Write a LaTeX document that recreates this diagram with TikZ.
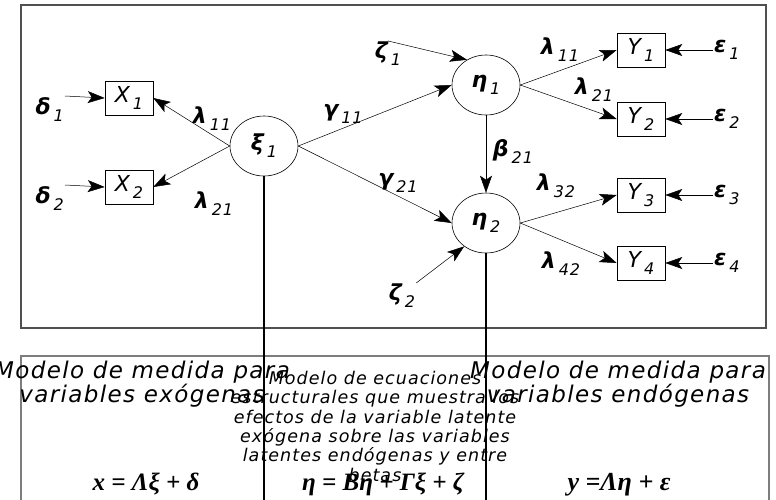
\documentclass[tikz,border=0pt]{standalone}
\usepackage{fontspec}
\usetikzlibrary{arrows.meta,shapes.geometric}
\newfontfamily\labfont{DejaVu Sans}[LetterSpace=6]
\newfontfamily\notefont{DejaVu Sans}[LetterSpace=6]
\newfontfamily\eqfont{Liberation Serif}
\definecolor{framegray}{RGB}{80,80,80}
\definecolor{lowgray}{RGB}{125,125,125}
% greek letter with lowered index
\newcommand{\gk}[2]{{\bfseries #1}\hspace{3pt}\raisebox{-7pt}{\fontsize{16}{16}\selectfont #2}}
% observed variable with lowered index
\newcommand{\ob}[2]{#1\hspace{3pt}\raisebox{-7pt}{\fontsize{16}{16}\selectfont #2}}

\begin{document}
\begin{tikzpicture}[x=1pt, y=-1pt, >={Stealth[length=17pt,width=12pt,inset=4pt]},
  latent/.style={draw, ellipse, line width=0.6pt, minimum width=68pt, minimum height=60pt, inner sep=0pt},
  observed/.style={draw, rectangle, line width=0.6pt, minimum width=48pt, minimum height=34pt, inner sep=0pt},
  coef/.style={inner sep=1pt},
  link/.style={->, line width=0.5pt},
  font=\labfont\itshape\fontsize{22}{24}\selectfont]
  \useasboundingbox (0,0) rectangle (776,499);

  % frames
  \draw[framegray, line width=1.3pt] (21,5) rectangle (766,328);
  \draw[lowgray, line width=1.2pt] (21,356) rectangle (769,520);

  % latent variables
  \node[latent] (xi1) at (264,146) {\gk{ξ}{1}};
  \node[latent] (eta1) at (486,85) {\gk{η}{1}};
  \node[latent] (eta2) at (486,223) {\gk{η}{2}};

  % observed variables
  \node[observed] (X1) at (129,98) {\ob{X}{1}};
  \node[observed] (X2) at (129,187) {\ob{X}{2}};
  \node[observed] (Y1) at (641,50) {\ob{Y}{1}};
  \node[observed] (Y2) at (641,119) {\ob{Y}{2}};
  \node[observed] (Y3) at (641,195) {\ob{Y}{3}};
  \node[observed] (Y4) at (641,263) {\ob{Y}{4}};

  % errors
  \node[coef, anchor=north east] (d1) at (65,96) {\gk{δ}{1}};
  \node[coef, anchor=north east] (d2) at (65,185) {\gk{δ}{2}};
  \node[coef, anchor=west] (e1) at (713,50) {\gk{ε}{1}};
  \node[coef, anchor=west] (e2) at (713,119) {\gk{ε}{2}};
  \node[coef, anchor=west] (e3) at (713,195) {\gk{ε}{3}};
  \node[coef, anchor=west] (e4) at (713,263) {\gk{ε}{4}};
  \node[coef] (z1) at (388,54) {\gk{ζ}{1}};
  \node[coef] (z2) at (402,296) {\gk{ζ}{2}};

  % coefficients
  \node[coef] (lx11) at (212,119) {\gk{λ}{11}};
  \node[coef] (lx21) at (214,204) {\gk{λ}{21}};
  \node[coef] (g11) at (343,114) {\gk{γ}{11}};
  \node[coef] (g21) at (398,183) {\gk{γ}{21}};
  \node[coef] (b21) at (513,151) {\gk{β}{21}};
  \node[coef] (ly11) at (560,50) {\gk{λ}{11}};
  \node[coef] (ly21) at (594,90) {\gk{λ}{21}};
  \node[coef] (ly32) at (556,186) {\gk{λ}{32}};
  \node[coef] (ly42) at (561,264) {\gk{λ}{42}};

  % paths
  \draw[link] (d1.north east) -- (X1.west);
  \draw[link] (d2.north east) -- (X2.west);
  \draw[link] (xi1.west) -- (X1.east);
  \draw[link] (xi1.west) -- (X2.east);
  \draw[link] (xi1.east) -- (eta1.west);
  \draw[link] (xi1.east) -- (eta2.west);
  \draw[link] (z1.north) -- (eta1.127);
  \draw[link] (z2.north east) -- (eta2.227);
  \draw[link] (eta1.south) -- (eta2.north);
  \draw[link] (eta1.east) -- (Y1.west);
  \draw[link] (eta1.east) -- (Y2.west);
  \draw[link] (eta2.east) -- (Y3.west);
  \draw[link] (eta2.east) -- (Y4.west);
  \draw[link] (e1.west) -- (Y1.east);
  \draw[link] (e2.west) -- (Y2.east);
  \draw[link] (e3.west) -- (Y3.east);
  \draw[link] (e4.west) -- (Y4.east);

  % notes below
  \node[anchor=north, align=center, inner sep=0pt, font=\notefont\itshape\fontsize{23}{19}\selectfont] (exonote) at (142,361) {Modelo de medida para\\variables exógenas};
  \node[anchor=north, align=center, inner sep=0pt, font=\notefont\itshape\fontsize{17.5}{19.3}\selectfont] (strnote) at (375,371) {Modelo de ecuaciones\\estructurales que muestra los\\efectos de la variable latente\\exógena sobre las variables\\latentes endógenas y entre\\betas};
  \node[anchor=north, align=center, inner sep=0pt, font=\notefont\itshape\fontsize{23}{19}\selectfont] (endonote) at (618,361) {Modelo de medida para\\variables endógenas};

  \node[anchor=base, font=\eqfont\bfseries\itshape\fontsize{25}{25}\selectfont] (eqx) at (146,490) {x = Λξ + δ};
  \node[anchor=base, font=\eqfont\bfseries\itshape\fontsize{25}{25}\selectfont] (eqeta) at (383,490) {η = Bη + Γξ + ζ};
  \node[anchor=base, font=\eqfont\bfseries\itshape\fontsize{26}{26}\selectfont] (eqy) at (619,490) {y =Λη + ε};

  % drop lines
  \coordinate (xiend) at (264,520);
  \coordinate (etaend) at (486,520);
  \draw[line width=2pt] (xi1.south) -- (xiend);
  \draw[line width=2pt] (eta2.south) -- (etaend);
\end{tikzpicture}
\end{document}
